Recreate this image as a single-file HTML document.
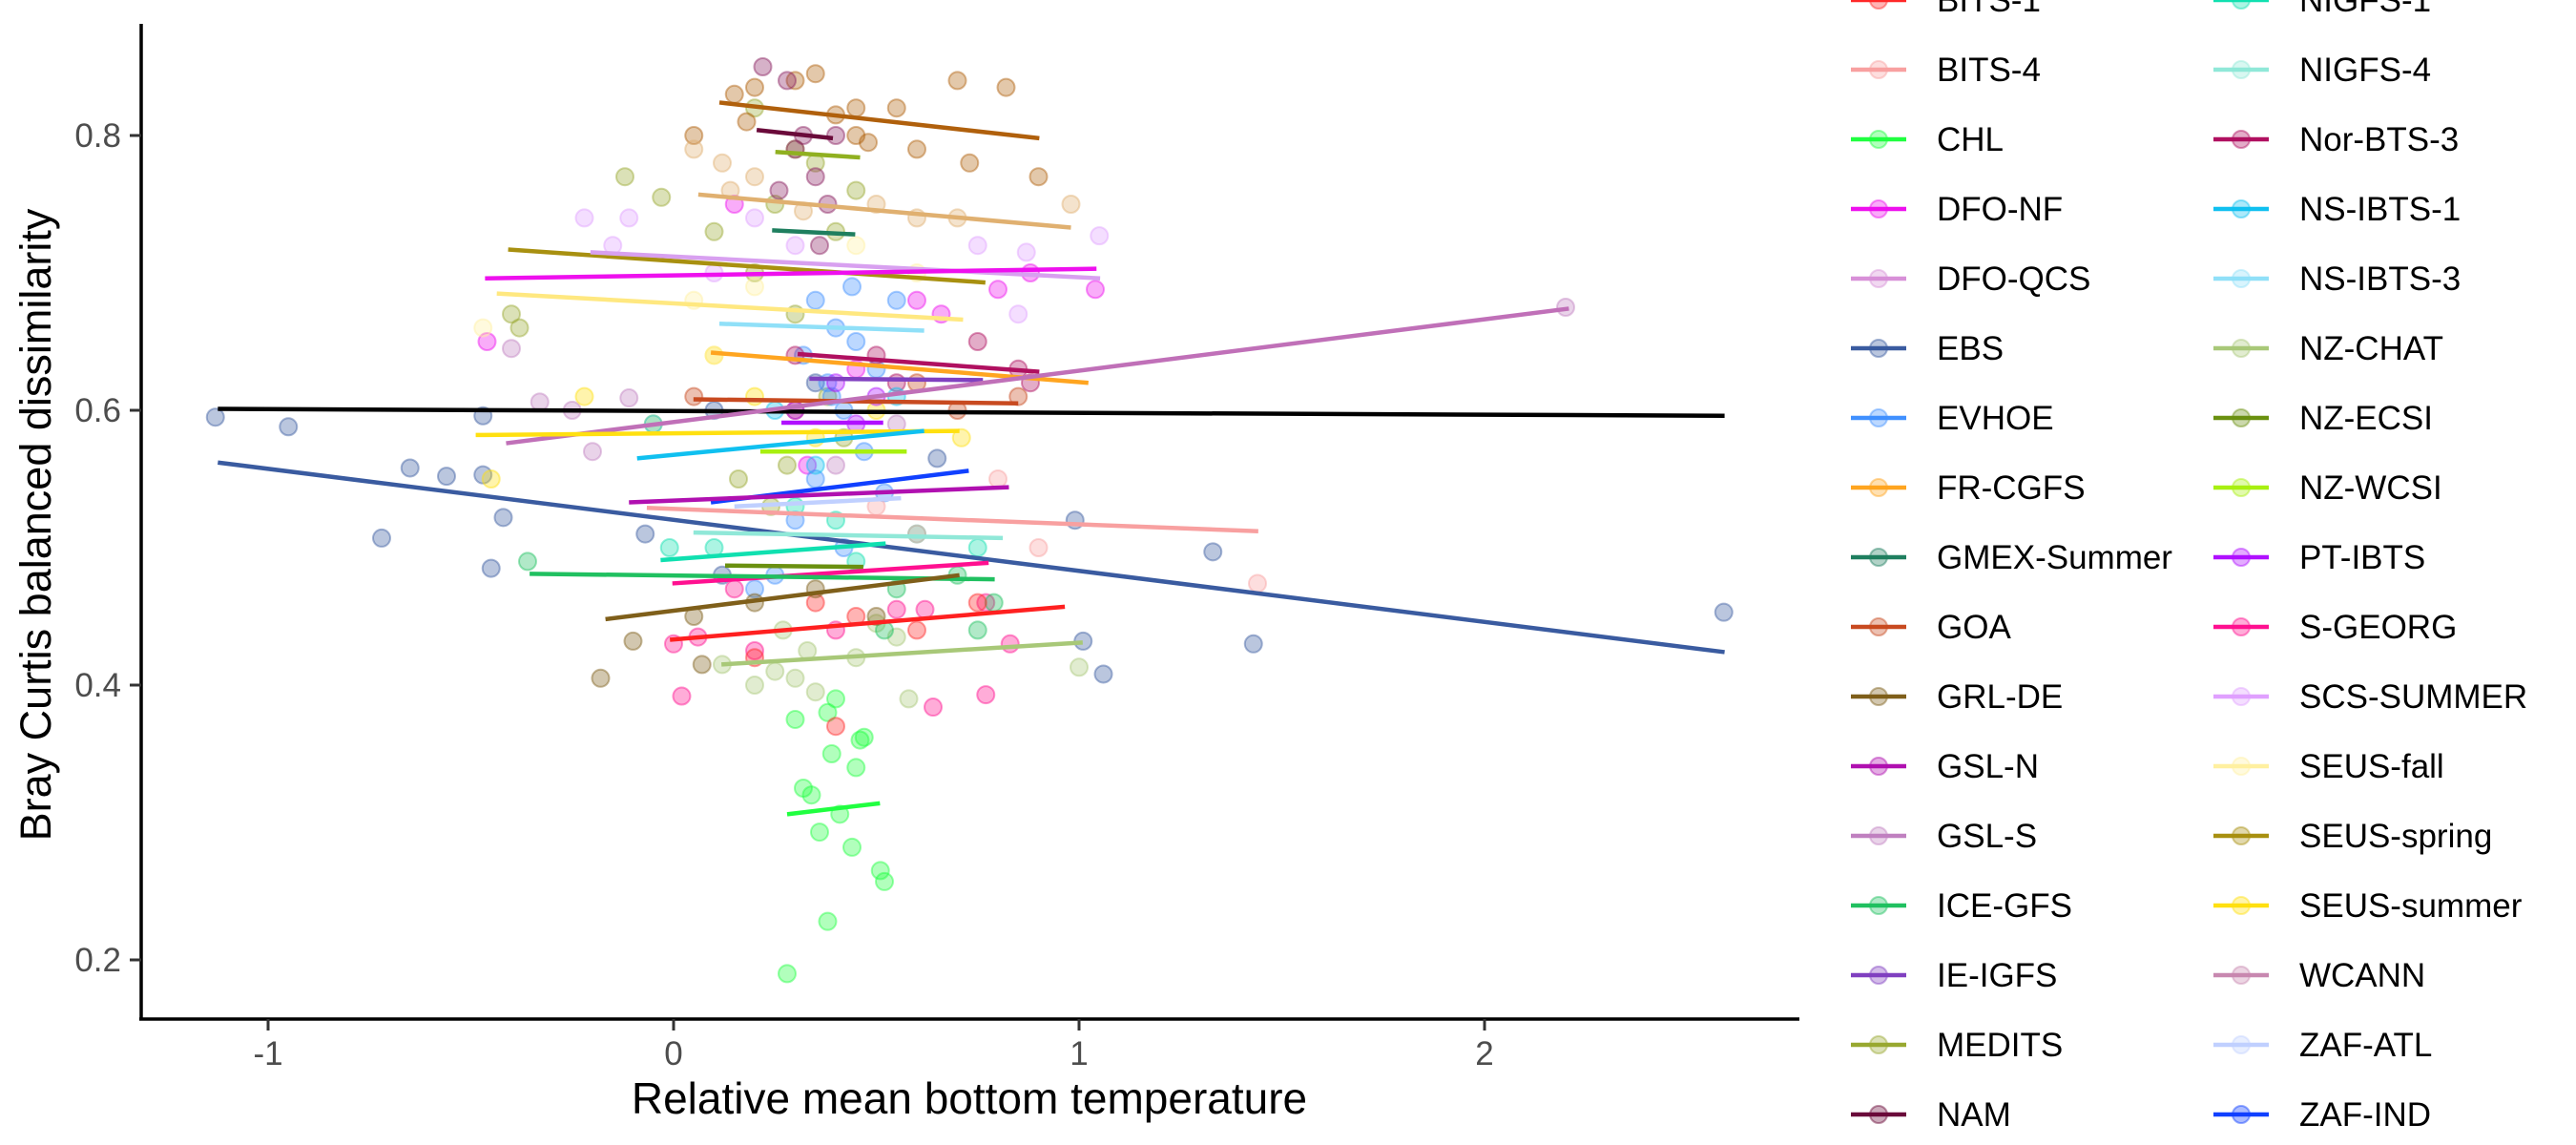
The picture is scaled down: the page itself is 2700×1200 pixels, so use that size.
<!DOCTYPE html>
<html><head><meta charset="utf-8">
<style>
html,body{margin:0;padding:0;background:#fff;}
svg{display:block;font-family:"Liberation Sans",Arial,sans-serif;}
</style></head>
<body>
<svg id="chart" width="2700" height="1200" viewBox="0 0 2700 1200" xmlns="http://www.w3.org/2000/svg">
  <g id="points"></g>
  <g id="lines"></g>
  <line x1="148" y1="25" x2="148" y2="1069" stroke="#000" stroke-width="3.5"/>
  <line x1="146" y1="1068" x2="1886" y2="1068" stroke="#000" stroke-width="3.5"/>
  <g id="xticks"></g>
  <g id="yticks"></g>
  <text x="1016" y="1167" font-size="46" text-anchor="middle" fill="#000">Relative mean bottom temperature</text>
  <text x="0" y="0" font-size="45" text-anchor="middle" fill="#000" transform="translate(53,550) rotate(-90)">Bray Curtis balanced dissimilarity</text>
  <g id="legend"></g>
</svg>
<script>
// Axis tick values
const xTicks = [-1, 0, 1, 2];
const yTicks = [0.2, 0.4, 0.6, 0.8];
const xTickLabels = ["-1", "0", "1", "2"];
const yTickLabels = ["0.2", "0.4", "0.6", "0.8"];

// Legend entries
const legendNames = ["BITS-1","BITS-4","CHL","DFO-NF","DFO-QCS","EBS","EVHOE","FR-CGFS","GMEX-Summer","GOA","GRL-DE","GSL-N","GSL-S","ICE-GFS","IE-IGFS","MEDITS","NAM",
  "NIGFS-1","NIGFS-4","Nor-BTS-3","NS-IBTS-1","NS-IBTS-3","NZ-CHAT","NZ-ECSI","NZ-WCSI","PT-IBTS","S-GEORG","SCS-SUMMER","SEUS-fall","SEUS-spring","SEUS-summer","WCANN","ZAF-ATL","ZAF-IND"];
const legendColors = ["#FF2828","#F8A0A0","#20FF40","#EE10EE","#D890D8","#3A5BA0","#4090FF","#FFA520","#1F7F5F","#C84A20","#7F5F1A","#B010B0","#C080C0","#20C060","#8040C0","#98A830","#6A0A3A",
  "#10E0B0","#90E8D8","#B01060","#10C0F0","#90E0F8","#A8C878","#6A9010","#A8F010","#B010FF","#FF1090","#E0A0FF","#FFF0A0","#A89010","#FFE010","#C888B0","#C0D0FF","#1040FF"];

// Trend line series (data coordinates)
const lineSeries = ["extra-brown","NAM","MEDITS","extra-tan","GMEX-Summer","SEUS-spring","SCS-SUMMER","DFO-NF","SEUS-fall","NS-IBTS-3","FR-CGFS","Nor-BTS-3","IE-IGFS","GOA","overall","GSL-S","PT-IBTS","SEUS-summer","NS-IBTS-1","NZ-WCSI","ZAF-IND","GSL-N","ZAF-ATL","BITS-4","EBS","NIGFS-4","NIGFS-1","NZ-ECSI","S-GEORG","ICE-GFS","GRL-DE","BITS-1","NZ-CHAT","CHL"];
const lineColors = ["#B0600C","#6A0A3A","#90B020","#E0B070","#1F7F5F","#A89010","#D8A0F0","#EE10EE","#FFE880","#90E0F8","#FFA520","#B01060","#8040C0","#C84A20","#000000","#C070B8","#B010FF","#FFE010","#10C0F0","#A8F010","#1040FF","#B010B0","#C0D0FF","#F8A0A0","#3A5BA0","#90E8D8","#10E0B0","#6A9010","#FF1090","#20C060","#7F5F1A","#FF2020","#A8C878","#20FF40"];
const lineX0 = [0.113,0.205,0.251,0.061,0.243,-0.408,-0.205,-0.465,-0.436,0.113,0.092,0.306,0.335,0.049,-1.124,-0.413,0.266,-0.488,-0.09,0.214,0.092,-0.11,0.15,-0.066,-1.124,0.049,-0.032,0.127,-0.003,-0.355,-0.168,-0.009,0.118,0.28];
const lineX1 = [0.902,0.393,0.460,0.98,0.448,0.769,1.052,1.043,0.714,0.618,1.023,0.902,0.763,0.85,2.592,2.208,0.517,0.705,0.618,0.575,0.728,0.827,0.561,1.442,2.592,0.812,0.523,0.468,0.777,0.792,0.705,0.965,1.009,0.509];
const lineY0 = [0.824,0.804,0.788,0.757,0.731,0.717,0.715,0.696,0.685,0.663,0.642,0.641,0.623,0.608,0.601,0.576,0.591,0.582,0.565,0.570,0.533,0.533,0.530,0.529,0.562,0.511,0.491,0.487,0.474,0.481,0.448,0.433,0.415,0.306];
const lineY1 = [0.798,0.798,0.784,0.733,0.728,0.693,0.696,0.703,0.666,0.658,0.620,0.628,0.622,0.605,0.596,0.674,0.591,0.585,0.585,0.570,0.556,0.544,0.536,0.512,0.424,0.507,0.503,0.486,0.489,0.477,0.480,0.457,0.431,0.314];

// Scatter points per group
const pointColors = ["#3A5BA0","#20FF40","#FF1090","#A8C878","#EE10EE","#C080C0","#98A830","#B0600C","#E0B070","#8A2060","#4090FF","#E0A0FF","#FFE010","#FFF0A0","#10E0B0","#20C060","#F8A0A0","#FF2828","#7F5F1A","#C84A20","#B01060","#10C0F0","#B010FF"];
const pointsX = [
 [-1.13,-0.95,-0.72,-0.65,-0.56,-0.47,-0.47,-0.45,-0.42,-0.07,0.10,0.12,0.99,1.01,1.06,1.33,1.43,2.59,0.65,0.35],
 [0.28,0.38,0.51,0.52,0.44,0.36,0.41,0.32,0.34,0.45,0.39,0.47,0.46,0.38,0.30,0.40],
 [0.02,0.64,0.77,0.00,0.06,0.20,0.40,0.55,0.77,0.83,0.15,0.62],
 [0.20,0.25,0.30,0.35,0.58,0.45,0.55,1.00,0.12,0.27,0.33,0.50],
 [-0.46,0.66,0.80,1.04,0.88,0.60,0.15,0.33,0.45],
 [-0.40,-0.33,-0.20,-0.11,2.20,-0.25,0.40,0.55],
 [-0.12,-0.03,0.20,0.30,0.35,0.25,0.40,0.45,0.20,0.30,0.10,-0.40,-0.38,0.16,0.24,0.38,0.42,0.28],
 [0.15,0.20,0.30,0.35,0.45,0.55,0.70,0.82,0.90,0.60,0.73,0.05,0.45,0.18,0.40,0.48],
 [0.05,0.12,0.20,0.50,0.60,0.98,0.70,0.14,0.32],
 [0.22,0.28,0.32,0.35,0.40,0.38,0.30,0.26,0.36],
 [0.35,0.40,0.45,0.38,0.42,0.50,0.55,0.32,0.47,0.35,0.30,0.42,0.20,0.25,0.44,0.39,0.52],
 [-0.22,-0.11,-0.15,0.20,0.30,1.05,0.87,0.75,0.85,0.10],
 [-0.22,-0.45,0.10,0.50,0.71,0.20,-0.05,0.35],
 [-0.47,0.05,0.20,0.45,0.60,0.10],
 [-0.01,0.10,0.40,0.60,0.75,0.45,0.30],
 [-0.36,0.52,0.75,0.79,0.55,0.70],
 [1.44,0.80,0.90,0.50,0.60],
 [0.20,0.40,0.60,0.75,0.35,0.45],
 [-0.18,-0.10,0.07,0.20,0.35,0.50,0.05],
 [0.05,0.30,0.60,0.85,0.70],
 [0.30,0.50,0.75,0.88,0.85,0.55],
 [-0.05,0.25,0.55,0.35],
 [0.30,0.40,0.50,0.45]
];
const pointsY = [
 [0.595,0.588,0.507,0.558,0.552,0.596,0.553,0.485,0.522,0.510,0.600,0.480,0.520,0.432,0.408,0.497,0.430,0.453,0.565,0.620],
 [0.190,0.228,0.265,0.257,0.282,0.293,0.306,0.325,0.320,0.340,0.350,0.362,0.360,0.380,0.375,0.390],
 [0.392,0.384,0.393,0.430,0.435,0.425,0.440,0.455,0.460,0.430,0.470,0.455],
 [0.400,0.410,0.405,0.395,0.390,0.420,0.435,0.413,0.415,0.440,0.425,0.445],
 [0.650,0.670,0.688,0.688,0.700,0.680,0.750,0.560,0.630],
 [0.645,0.606,0.570,0.609,0.675,0.600,0.560,0.590],
 [0.770,0.755,0.820,0.790,0.780,0.750,0.730,0.760,0.700,0.670,0.730,0.670,0.660,0.550,0.530,0.610,0.580,0.560],
 [0.830,0.835,0.840,0.845,0.820,0.820,0.840,0.835,0.770,0.790,0.780,0.800,0.800,0.810,0.815,0.795],
 [0.790,0.780,0.770,0.750,0.740,0.750,0.740,0.760,0.745],
 [0.850,0.840,0.800,0.770,0.800,0.750,0.790,0.760,0.720],
 [0.680,0.660,0.650,0.620,0.600,0.630,0.680,0.640,0.570,0.550,0.520,0.500,0.470,0.480,0.690,0.610,0.540],
 [0.740,0.740,0.720,0.740,0.720,0.727,0.715,0.720,0.670,0.700],
 [0.610,0.550,0.640,0.600,0.580,0.610,0.590,0.580],
 [0.660,0.680,0.690,0.720,0.700,0.640],
 [0.500,0.500,0.520,0.510,0.500,0.490,0.530],
 [0.490,0.440,0.440,0.460,0.470,0.480],
 [0.474,0.550,0.500,0.530,0.510],
 [0.420,0.370,0.440,0.460,0.460,0.450],
 [0.405,0.432,0.415,0.460,0.470,0.450,0.450],
 [0.610,0.600,0.620,0.610,0.600],
 [0.640,0.640,0.650,0.620,0.630,0.620],
 [0.590,0.600,0.610,0.560],
 [0.600,0.620,0.610,0.590]
];

// Axis functions
const X0PX = 706, XUNIT = 425, Y08PX = 142, YUNIT = 1440;
function sx(v){ return X0PX + v * XUNIT; }
function sy(v){ return Y08PX + (0.8 - v) * YUNIT; }

const NS = "http://www.w3.org/2000/svg";
function mk(tag, attrs, parent){
  const el = document.createElementNS(NS, tag);
  for (const k in attrs) el.setAttribute(k, attrs[k]);
  parent.appendChild(el);
  return el;
}

// Points
const gP = document.getElementById("points");
pointsX.forEach((xs, gi) => {
  xs.forEach((xv, i) => {
    const c = mk("circle", {cx: sx(xv), cy: sy(pointsY[gi][i]), r: 9, fill: pointColors[gi], "fill-opacity": 0.35, stroke: pointColors[gi], "stroke-opacity": 0.45, "stroke-width": 2}, gP);
    
    
  });
});

// Lines
const gL = document.getElementById("lines");
lineSeries.forEach((name, i) => {
  const l = mk("line", {x1: sx(lineX0[i]), y1: sy(lineY0[i]), x2: sx(lineX1[i]), y2: sy(lineY1[i]), stroke: lineColors[i], "stroke-width": 4.5}, gL);
  
  
});

// Ticks
const gX = document.getElementById("xticks");
xTicks.forEach((v, i) => {
  const t = mk("line", {x1: sx(v), y1: 1068, x2: sx(v), y2: 1080, stroke: "#333", "stroke-width": 3}, gX);
  
  
  const tx = mk("text", {x: sx(v), y: 1116, "font-size": 35, "text-anchor": "middle", fill: "#4d4d4d"}, gX);
  tx.textContent = xTickLabels[i];
  
  
});
const gY = document.getElementById("yticks");
yTicks.forEach((v, i) => {
  const t = mk("line", {x1: 136, y1: sy(v), x2: 148, y2: sy(v), stroke: "#333", "stroke-width": 3}, gY);
  
  
  const tx = mk("text", {x: 127, y: sy(v) + 12, "font-size": 35, "text-anchor": "end", fill: "#4d4d4d"}, gY);
  tx.textContent = yTickLabels[i];
  
  
});

// Legend
const gLeg = document.getElementById("legend");
legendNames.forEach((name, i) => {
  const col = i < 17 ? 0 : 1;
  const row = i % 17;
  const kx = col === 0 ? 1940 : 2320;
  const tx0 = col === 0 ? 2030 : 2410;
  const y = row * 73;
  const g = mk("g", {}, gLeg);
  
  
  mk("line", {x1: kx, y1: y, x2: kx + 58, y2: y, stroke: legendColors[i], "stroke-width": 4.5}, g);
  mk("circle", {cx: kx + 29, cy: y, r: 9, fill: legendColors[i], "fill-opacity": 0.35, stroke: legendColors[i], "stroke-opacity": 0.45, "stroke-width": 2}, g);
  const t = mk("text", {x: tx0, y: y + 12, "font-size": 35, fill: "#000"}, g);
  t.textContent = name;
});
</script>
</body></html>
